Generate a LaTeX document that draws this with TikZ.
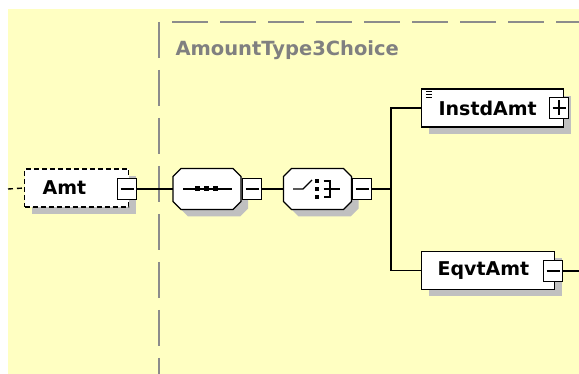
\documentclass[tikz,border=0pt]{standalone}
\usepackage{fontspec}
\setmainfont{DejaVu Sans}
\usetikzlibrary{shadows}

\definecolor{bgyellow}{RGB}{255,255,194}
\definecolor{sepgray}{RGB}{140,140,140}
\definecolor{titlegray}{RGB}{128,128,128}
\definecolor{shadegray}{RGB}{192,192,192}

\tikzset{
  lbl/.style={font=\bfseries\fontsize{19}{19}\selectfont},
  dropsh/.style={drop shadow={shadow xshift=7pt, shadow yshift=-7pt, fill=shadegray, opacity=1}},
  elem/.style={lbl, rectangle, draw, fill=white, line width=1.3pt, dropsh, minimum height=38pt, inner ysep=0pt, align=left, anchor=west},
  octo/.style={rectangle, minimum width=68pt, minimum height=41pt, inner sep=0pt},
  boxbase/.style={rectangle, draw, fill=white, line width=1.3pt, minimum width=19pt, minimum height=21pt, inner sep=0pt},
  minusbox/.style={boxbase, path picture={
      \draw[line width=1.1pt] ([xshift=3pt]path picture bounding box.west) -- ([xshift=-3pt]path picture bounding box.east);}},
  plusbox/.style={boxbase, path picture={
      \draw[line width=1.1pt] ([xshift=3pt]path picture bounding box.west) -- ([xshift=-3pt]path picture bounding box.east);
      \draw[line width=1.1pt] ([yshift=-3pt]path picture bounding box.north) -- ([yshift=3pt]path picture bounding box.south);}},
  grpline/.style={sepgray, line width=2pt, dash pattern=on 36pt off 12pt},
  conn/.style={black, line width=1.4pt}
}

\begin{document}
\begin{tikzpicture}[x=1pt, y=-1pt]
  \useasboundingbox (0,0) rectangle (579,374);
  \fill[white] (0,0) rectangle (579,374);
  \fill[bgyellow] (8,9.5) rectangle (579,374);

  % choice group frame
  \draw[grpline] (159,22) -- (159,374);
  \draw[grpline] (172,22) -- (579,22);
  \node (grp) at (172,56) [anchor=base west, lbl, text=titlegray, font=\bfseries\fontsize{19.5}{19.5}\selectfont] {AmountType3Choice};

  \node (amt) at (24,188) [elem, dash pattern=on 5pt off 3pt, text width=68pt, inner xsep=18pt] {Amt};
  \node (amtm) at (127,189) [minusbox] {};
  \node (seq) at (207,189) [octo] {};
  \node (chc) at (317.5,189) [octo] {};
  \node (instd) at (421,108) [elem, text width=108pt, inner xsep=17pt] {InstdAmt};
  \node (instdp) at (559,108) [plusbox] {};
  \node (eqvt) at (421,270.5) [elem, text width=101pt, inner xsep=16pt] {EqvtAmt};
  \node (eqvtm) at (553,271) [minusbox] {};

  \coordinate (in) at (8,189);
  \coordinate (fork) at (391,189);
  \coordinate (out) at (579,271);

  % octagons of the compositors
  \foreach \n in {seq,chc} {
    \begin{scope}[shift={(\n.center)}]
      \filldraw[fill=white, line width=1.3pt, dropsh]
        (-26,-20.5) -- (26,-20.5) -- (34,-12.5) -- (34,12.5) -- (26,20.5)
        -- (-26,20.5) -- (-34,12.5) -- (-34,-12.5) -- cycle;
    \end{scope}
  }
  \node (seqm) at (252,189) [minusbox] {};
  \node (chcm) at (362,189) [minusbox] {};

  \draw[conn, dash pattern=on 5pt off 4pt] (in) -- (amt.west);
  \draw[conn] (amtm) -- (seq);
  \draw[conn] (seqm) -- (chc);
  \draw[conn] (chcm.east) -- (fork);
  \draw[conn] (instd.west) -| (fork) |- (eqvt.west);
  \draw[conn] (eqvtm) -- (out);

  % sequence symbol
  \begin{scope}[shift={(seq.center)}, line width=1.3pt]
    \draw (-24,0) -- (25,0);
    \foreach \i in {-10,-1,8}
      \fill (\i-2.5,-2.5) rectangle (\i+2.5,2.5);
  \end{scope}

  % choice symbol
  \begin{scope}[shift={(chc.center)}, line width=1.3pt]
    \draw (-24.5,0) -- (-14.5,0) -- (-5.5,-9);
    \foreach \j in {-8,0,8}
      \fill (-3,\j-2) rectangle (1,\j+2);
    \draw (6,-8) -- (12.5,-8) -- (12.5,8) -- (6,8);
    \draw (6,0) -- (22.5,0);
  \end{scope}

  % documentation mark
  \begin{scope}[shift={(instd.north west)}, line width=0.9pt]
    \foreach \k in {3,6,9}
      \draw (5,\k) -- (11,\k);
  \end{scope}
\end{tikzpicture}
\end{document}
